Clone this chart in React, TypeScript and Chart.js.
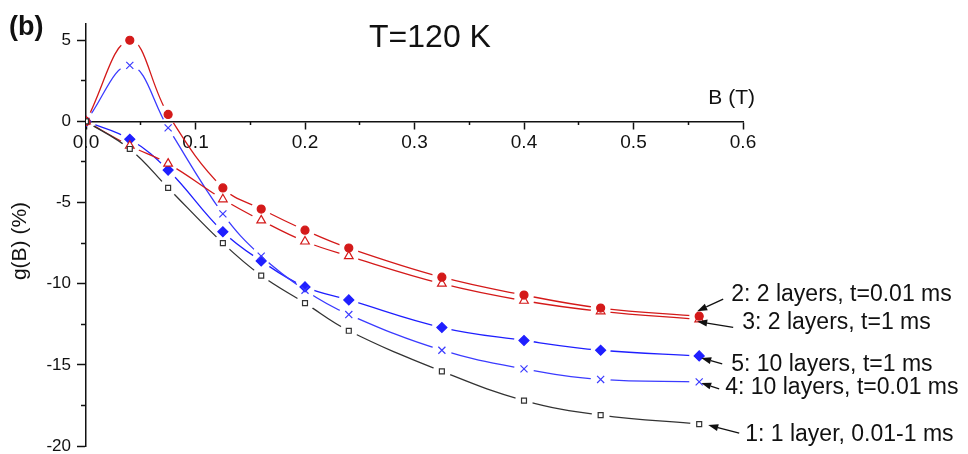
import React, { useEffect, useRef } from 'react';
import { Chart, registerables } from 'chart.js';

Chart.register(...registerables);

// ---- data ----
const bField = [0, 0.04, 0.075, 0.125, 0.16, 0.2, 0.24, 0.325, 0.4, 0.47, 0.56];
const series1 = [0, -1.7, -4.1, -7.5, -9.5, -11.2, -12.9, -15.4, -17.2, -18.1, -18.65];
const series2 = [0, 5.0, 0.43, -4.1, -5.4, -6.7, -7.8, -9.6, -10.7, -11.5, -12.0];
const series3 = [0, -1.5, -2.6, -4.8, -6.1, -7.4, -8.3, -10.0, -11.05, -11.7, -12.2];
const series4 = [0, 3.45, -0.4, -5.7, -8.3, -10.4, -11.9, -14.1, -15.25, -15.9, -16.05];
const series5 = [0, -1.1, -3.0, -6.8, -8.6, -10.2, -11.0, -12.7, -13.5, -14.1, -14.45];

const seriesLabels = [
  '1: 1 layer, 0.01-1 ms',
  '2: 2 layers, t=0.01 ms',
  '3: 2 layers, t=1 ms',
  '4: 10 layers, t=0.01 ms',
  '5: 10 layers, t=1 ms',
];

const xTicks = [0, 0.1, 0.2, 0.3, 0.4, 0.5, 0.6];
const xMinorTicks = [0.05, 0.15, 0.25, 0.35, 0.45, 0.55];
const yTicks = [-20, -15, -10, -5, 0, 5];
const yMinorTicks = [-17.5, -12.5, -7.5, -2.5, 2.5];

const titleText = 'T=120 K';
const panelText = '(b)';
const xTitle = 'B (T)';
const yTitle = 'g(B) (%)';

// ---- layout for annotations (pixel offsets relative to each series' last point) ----
// [headDx, headDy, tailDx, tailDy, textDx, textDy]
const annotLayout = [
  [9, 1, 40, 9, 46, 11],
  [-2, -5, 24, -17, 32, -21],
  [-2, 2, 34, 8, 43, 3],
  [2, 1, 20, 7, 26, 6],
  [2, 2, 23, 8, 32, 9],
];

const RED = '#d41a1a';
const BLUE = '#1f1fff';
const BLUE2 = '#3b3bff';
const BLACK = '#333333';
const AXIS = '#111111';
const FONT = "'Liberation Sans', Arial, sans-serif";

function toPoints(ys: number[]) {
  return bField.map((x, i) => ({ x, y: ys[i] }));
}

const seriesData = [series1, series2, series3, series4, series5];
const seriesStyle = [
  { color: BLACK, pointStyle: 'rect', radius: 3.5, filled: false, gap: 9 },
  { color: RED, pointStyle: 'circle', radius: 4, filled: true, gap: 10 },
  { color: RED, pointStyle: 'triangle', radius: 5, filled: false, gap: 10 },
  { color: BLUE2, pointStyle: 'crossRot', radius: 5, filled: false, gap: 10 },
  { color: BLUE, pointStyle: 'rectRot', radius: 5, filled: true, gap: 10 },
];

// Clip each series' line around its own markers (gap-to-symbol look)
const gapPlugin = {
  id: 'gapClip',
  beforeDatasetDraw(chart: any, args: any) {
    const ds = chart.data.datasets[args.index];
    if (typeof ds.gapOf !== 'number') return;
    const ctx = chart.ctx as CanvasRenderingContext2D;
    const pts = chart.getDatasetMeta(ds.gapOf).data;
    const r = ds.gapRadius;
    ctx.save();
    const path = new Path2D();
    path.rect(0, 0, chart.width, chart.height);
    for (const p of pts) {
      path.moveTo(p.x + r, p.y);
      path.arc(p.x, p.y, r, 0, Math.PI * 2, true);
    }
    ctx.clip(path, 'evenodd');
  },
  afterDatasetDraw(chart: any, args: any) {
    const ds = chart.data.datasets[args.index];
    if (typeof ds.gapOf !== 'number') return;
    chart.ctx.restore();
  },
};

const textPlugin = {
  id: 'texts',
  afterDraw(chart: any) {
    const ctx = chart.ctx as CanvasRenderingContext2D;
    ctx.save();
    ctx.fillStyle = '#111';
    ctx.textBaseline = 'middle';

    ctx.font = `bold 27px ${FONT}`;
    ctx.textAlign = 'left';
    ctx.fillText(panelText, 9, 28);

    ctx.font = `32px ${FONT}`;
    ctx.textAlign = 'center';
    ctx.fillText(titleText, 430, 38);

    ctx.font = `21px ${FONT}`;
    ctx.textAlign = 'right';
    ctx.fillText(xTitle, 755, 98);

    ctx.save();
    ctx.translate(20, 241);
    ctx.rotate(-Math.PI / 2);
    ctx.textAlign = 'center';
    ctx.font = `21px ${FONT}`;
    ctx.fillText(yTitle, 0, 0);
    ctx.restore();

    // arrows + labels
    ctx.font = `23px ${FONT}`;
    ctx.textAlign = 'left';
    ctx.strokeStyle = '#111';
    ctx.lineWidth = 1.3;
    for (let i = 0; i < seriesLabels.length; i++) {
      const meta = chart.getDatasetMeta(i);
      const pt = meta.data[meta.data.length - 1];
      const [hdx, hdy, tdx, tdy, xdx, xdy] = annotLayout[i];
      const hx = pt.x + hdx, hy = pt.y + hdy;
      const tx = pt.x + tdx, ty = pt.y + tdy;
      const ang = Math.atan2(hy - ty, hx - tx);
      const len = 10, half = 3.5;
      const bx = hx - len * Math.cos(ang), by = hy - len * Math.sin(ang);
      ctx.beginPath();
      ctx.moveTo(tx, ty);
      ctx.lineTo(bx, by);
      ctx.stroke();
      ctx.beginPath();
      ctx.moveTo(hx, hy);
      ctx.lineTo(bx + half * Math.sin(ang), by - half * Math.cos(ang));
      ctx.lineTo(bx - half * Math.sin(ang), by + half * Math.cos(ang));
      ctx.closePath();
      ctx.fill();
      ctx.fillText(seriesLabels[i], pt.x + xdx, pt.y + xdy);
    }
    ctx.restore();
  },
};

export default function App() {
  const ref = useRef<HTMLCanvasElement | null>(null);

  useEffect(() => {
    if (!ref.current) return;
    // marker datasets (indices 0..4)
    const markerSets = seriesData.map((ys, i) => {
      const st = seriesStyle[i];
      return {
        label: seriesLabels[i],
        data: toPoints(ys),
        showLine: false,
        pointStyle: st.pointStyle,
        pointRadius: st.radius,
        pointBorderWidth: 1.2,
        pointBackgroundColor: st.filled ? st.color : '#ffffff',
        pointBorderColor: st.color,
        borderColor: st.color,
      };
    });
    // line datasets (indices 5..9), clipped around markers
    const lineSets = seriesData.map((ys, i) => {
      const st = seriesStyle[i];
      return {
        label: seriesLabels[i] + ' (line)',
        data: toPoints(ys),
        showLine: true,
        tension: 0.4,
        borderWidth: 1.3,
        borderColor: st.color,
        pointRadius: 0,
        fill: false,
        gapOf: i,
        gapRadius: st.gap,
      };
    });
    const chart = new Chart(ref.current, {
      type: 'scatter',
      data: { datasets: [...markerSets, ...lineSets] as any },
      options: {
        responsive: false,
        animation: false,
        devicePixelRatio: 1,
        layout: { padding: { left: 8, right: 225, top: 24, bottom: 8 } },
        plugins: {
          legend: { display: false },
          tooltip: { enabled: false },
          title: { display: false },
        },
        scales: {
          x: {
            type: 'linear',
            min: 0,
            max: 0.6,
            position: { y: 0 } as any,
            afterBuildTicks: (s: any) => {
              s.ticks = xTicks.map((v) => ({ value: v }));
            },
            afterFit: (s: any) => {
              s.height = 0;
            },
            ticks: {
              autoSkip: false,
              maxRotation: 0,
              padding: 3,
              color: '#111',
              font: { family: FONT, size: 19 },
              callback: (v: any) => Number(v).toFixed(1),
            },
            grid: {
              drawOnChartArea: false,
              drawTicks: true,
              tickLength: 7,
              tickWidth: 1.5,
              tickColor: AXIS,
            },
            border: { display: true, color: AXIS, width: 1.5 },
          },
          x2: {
            type: 'linear',
            axis: 'x',
            min: 0,
            max: 0.6,
            position: { y: 0 } as any,
            afterBuildTicks: (s: any) => {
              s.ticks = xMinorTicks.map((v) => ({ value: v }));
            },
            afterFit: (s: any) => {
              s.height = 0;
            },
            ticks: { display: false },
            grid: {
              drawOnChartArea: false,
              drawTicks: true,
              tickLength: 4,
              tickWidth: 1.5,
              tickColor: AXIS,
            },
            border: { display: false },
          },
          y: {
            type: 'linear',
            min: -20,
            max: 6,
            position: 'left',
            weight: 1,
            afterBuildTicks: (s: any) => {
              s.ticks = yTicks.map((v) => ({ value: v }));
            },
            afterFit: (s: any) => {
              s.width = 78;
              s.paddingTop = 0;
              s.paddingBottom = 0;
            },
            ticks: {
              padding: 6,
              color: '#111',
              font: { family: FONT, size: 17 },
            },
            grid: {
              drawOnChartArea: false,
              drawTicks: true,
              tickLength: 9,
              tickWidth: 1.5,
              tickColor: AXIS,
            },
            border: { display: true, color: AXIS, width: 1.5 },
          },
          y2: {
            type: 'linear',
            axis: 'y',
            min: -20,
            max: 6,
            position: 'left',
            weight: 0,
            afterBuildTicks: (s: any) => {
              s.ticks = yMinorTicks.map((v) => ({ value: v }));
            },
            afterFit: (s: any) => {
              s.width = 0;
              s.paddingTop = 0;
              s.paddingBottom = 0;
            },
            ticks: { display: false },
            grid: {
              drawOnChartArea: false,
              drawTicks: true,
              tickLength: 5,
              tickWidth: 1.5,
              tickColor: AXIS,
            },
            border: { display: false },
          },
        },
      } as any,
      plugins: [gapPlugin, textPlugin],
    });
    return () => chart.destroy();
  }, []);

  return (
    <div style={{ position: 'fixed', left: 0, top: 0, width: 968, height: 454, background: '#fff' }}>
      <canvas ref={ref} width={968} height={454} style={{ display: 'block' }} />
    </div>
  );
}
